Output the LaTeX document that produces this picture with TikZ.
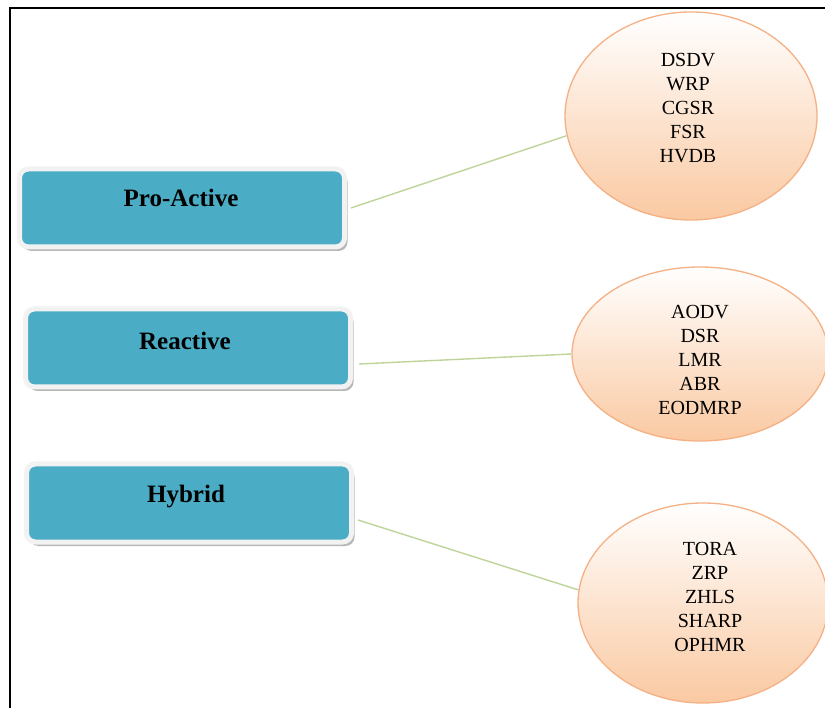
\documentclass[tikz,border=0pt]{standalone}
\usepackage{fontspec}
\setmainfont{Liberation Serif}
\usetikzlibrary{shapes.geometric,shadows,calc}
\definecolor{tealfill}{HTML}{4BACC6}
\definecolor{boxrim}{HTML}{F2F2F2}
\definecolor{peach}{HTML}{FAC9A2}
\definecolor{peachline}{HTML}{F5B083}
\definecolor{linkgreen}{HTML}{BFD49A}
\tikzset{
  x=1pt,y=-1pt,
  catbox/.style={draw=boxrim,line width=5pt,fill=tealfill,rounded corners=9pt,
    minimum width=325pt,minimum height=78pt,inner sep=0pt,
    drop shadow={shadow xshift=3pt,shadow yshift=-4pt,fill=gray!70,opacity=.8}},
  catlabel/.style={font=\fontsize{25}{28}\selectfont\bfseries,inner sep=0pt},
  protoell/.style={ellipse,draw=peachline,line width=1.3pt,top color=white,bottom color=peach,inner sep=0pt},
  protolist/.style={font=\fontsize{20}{24}\selectfont,align=center,inner sep=0pt},
  link/.style={draw=linkgreen,line width=1.4pt}
}
\begin{document}
\begin{tikzpicture}
\useasboundingbox (0,0) rectangle (825,708);
\fill[white] (0,0) rectangle (825,708);
% frame
\draw[black,line width=2pt] (10,730) -- (10,8) -- (840,8);
% boxes
\node[catbox] (pa) at (182,208) {};
\node[catlabel] (pal) at (181,198) {Pro-Active};
\node[catbox] (re) at (188,348) {};
\node[catlabel] (rel) at (185,341) {Reactive};
\node[catbox] (hy) at (189,503) {};
\node[catlabel] (hyl) at (186,497) {Hybrid};
% ellipses
\node[protoell,minimum width=252pt,minimum height=208pt] (e1) at (691,116) {};
\node[protolist] (t1) at (688,108) {DSDV\\WRP\\CGSR\\FSR\\HVDB};
\node[protoell,minimum width=256pt,minimum height=174pt] (e2) at (700,354) {};
\node[protolist] (t2) at (700,360) {AODV\\DSR\\LMR\\ABR\\EODMRP};
\node[protoell,minimum width=250pt,minimum height=200pt] (e3) at (703,603) {};
\node[protolist] (t3) at (710,597) {TORA\\ZRP\\ZHLS\\SHARP\\OPHMR};
% links
\draw[link] ($(pa.east)+(4pt,0)$) -- (e1.189);
\draw[link] ($(re.east)+(6pt,-16pt)$) -- (e2.west);
\draw[link] ($(hy.east)+(4pt,-17pt)$) -- (e3.174);
\end{tikzpicture}
\end{document}
